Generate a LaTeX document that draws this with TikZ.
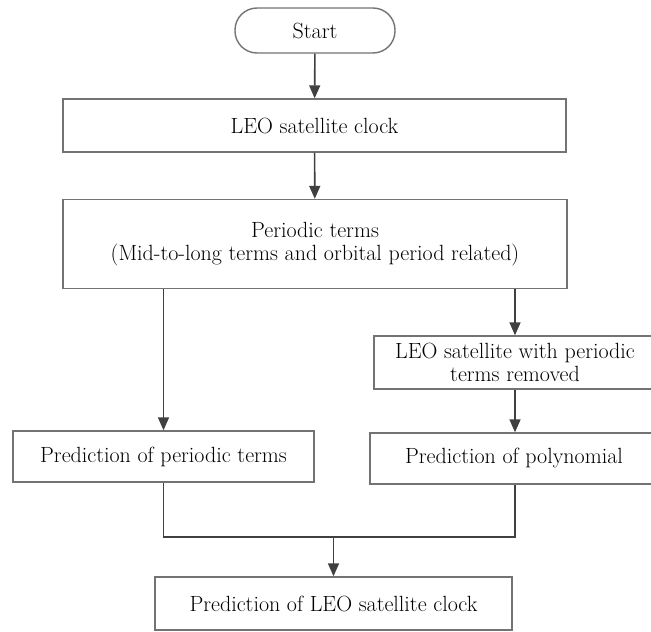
\documentclass[tikz,border=0pt]{standalone}
\usepackage{fontspec}
\usepackage{tikz}
\usetikzlibrary{arrows.meta}

\begin{document}
\begin{tikzpicture}[x=1pt, y=-1pt,
        box/.style={draw=gray!90!black, line width=1.4pt, fill=white, font=\fontsize{22}{23.5}\selectfont, align=center, inner sep=0pt},
        arr/.style={draw=black!75, line width=1.6pt, -{Triangle[width=11pt, length=13pt]}},
        wire/.style={draw=black!75, line width=1.6pt}]

        \useasboundingbox (0,0) rectangle (651,632);
        \clip (0,0) rectangle (651,632);

        \node[box, rounded corners=22pt, minimum width=160pt, minimum height=45pt] (start) at (315,30.5) {Start};
        \node[box, minimum width=503pt, minimum height=53pt] (clock) at (314.5,125.5) {LEO satellite clock};
        \node[box, minimum width=504pt, minimum height=89pt] (periodic) at (315,244) {Periodic terms\\(Mid-to-long terms and orbital period related)};
        \node[box, minimum width=282pt, minimum height=53pt] (removed) at (515,362.5) {LEO satellite with periodic\\terms removed};
        \node[box, minimum width=301pt, minimum height=51pt] (predper) at (163.5,456.5) {Prediction of periodic terms};
        \node[box, minimum width=288pt, minimum height=51pt] (predpoly) at (514,458.5) {Prediction of polynomial};
        \node[box, minimum width=357pt, minimum height=53pt] (final) at (333.5,603.5) {Prediction of LEO satellite clock};
        \coordinate (merge) at (333.5,537);

        \draw[arr] (start) -- (clock);
        \draw[arr] (clock) -- (periodic);
        \draw[arr] (predper.north |- periodic.south) -- (predper);
        \draw[arr] (removed.north |- periodic.south) -- (removed);
        \draw[arr] (removed) -- (removed |- predpoly.north);
        \draw[wire] (predper.south) |- (merge) -| (removed |- predpoly.south);
        \draw[arr] (merge) -- (final);

\end{tikzpicture}
\end{document}
